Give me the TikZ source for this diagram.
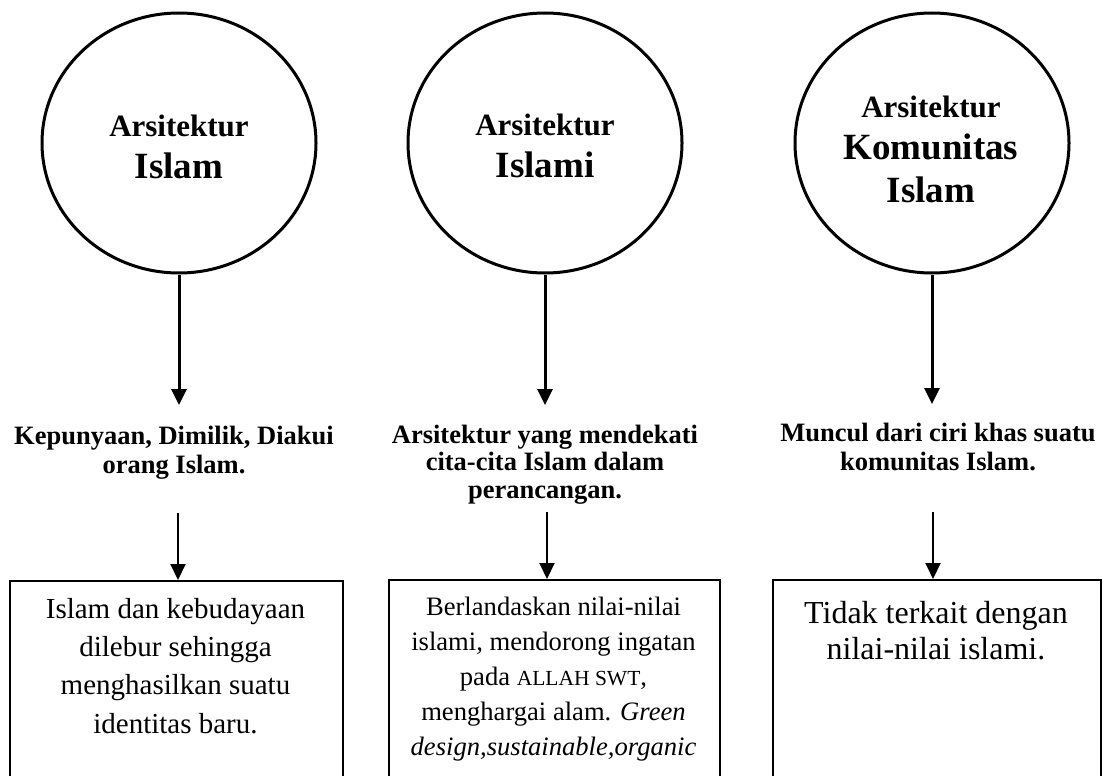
\documentclass[tikz,border=0pt]{standalone}
\usepackage{fontspec}
\setmainfont{Liberation Serif}
\usetikzlibrary{shapes.geometric,arrows.meta}
\begin{document}
\begin{tikzpicture}[x=1pt,y=-1pt,
  circ/.style={ellipse,draw,line width=3pt,minimum width=274pt,minimum height=260pt,inner sep=0pt},
  ctext/.style={align=center,inner sep=0pt,anchor=base,font=\fontsize{31}{42}\selectfont\bfseries},
  lbl/.style={align=center,inner sep=0pt,anchor=base,font=\fontsize{26.5}{28.5}\selectfont\bfseries},
  boxr/.style={draw,line width=2pt,anchor=north west,inner sep=0pt,minimum height=230pt},
  btext/.style={align=center,inner sep=0pt,anchor=base},
  arr/.style={line width=3pt,-{Triangle[width=15pt,length=16pt]}},
  arrb/.style={line width=2pt,-{Triangle[width=15pt,length=16pt]}}]
\useasboundingbox (0,0) rectangle (1103,776);
\fill[white] (0,0) rectangle (1103,776);
% circles
\node[circ] (c1) at (179,143) {};
\node[circ] (c2) at (545,143) {};
\node[circ] (c3) at (932,143) {};
\node[ctext] (ct1) at (179,178) {Arsitektur\\{\fontsize{37}{42}\selectfont Islam}};
\node[ctext] (ct2) at (545,177) {Arsitektur\\{\fontsize{37}{42}\selectfont Islami}};
\node[ctext,font=\fontsize{31}{42.5}\selectfont\bfseries] (ct3) at (931,202) {Arsitektur\\{\fontsize{37}{42.5}\selectfont Komunitas}\\{\fontsize{37}{42.5}\selectfont Islam}};
% labels
\node[lbl] (l1) at (174,473) {Kepunyaan, Dimilik, Diakui\\orang Islam.};
\node[lbl,font=\fontsize{26.5}{27.5}\selectfont\bfseries] (l2) at (545,498) {Arsitektur yang mendekati\\cita-cita Islam dalam\\perancangan.};
\node[lbl] (l3) at (938,470) {Muncul dari ciri khas suatu\\komunitas Islam.};
% boxes
\node[boxr,minimum width=333pt] (b1) at (9,580) {};
\node[boxr,minimum width=331pt] (b2) at (388,579) {};
\node[boxr,minimum width=328pt] (b3) at (772,579) {};
\node[btext,font=\fontsize{29}{38.3}\selectfont] (bt1) at (175.5,733) {Islam dan kebudayaan\\dilebur sehingga\\menghasilkan suatu\\identitas baru.};
\node[btext,font=\fontsize{26.6}{35}\selectfont] (bt2) at (553.5,755) {Berlandaskan nilai-nilai\\islami, mendorong ingatan\\pada {\fontsize{21.5}{35}\selectfont ALLAH SWT},\\menghargai alam. \textit{Green}\\\textit{design,sustainable,organic}};
\node[btext,font=\fontsize{32}{36}\selectfont] (bt3) at (936,659) {Tidak terkait dengan\\nilai-nilai islami.};
% arrow coordinates
\coordinate (e1) at (179,405);
\coordinate (e2) at (545,405);
\coordinate (e3) at (932,404);
\coordinate (s1) at (178,513);
\coordinate (s2) at (547,512);
\coordinate (s3) at (933,512);
\draw[arr] (c1.south) -- (e1);
\draw[arr] (c2.south) -- (e2);
\draw[arr] (c3.south) -- (e3);
\draw[arrb] (s1) -- (s1 |- b1.north);
\draw[arrb] (s2) -- (s2 |- b2.north);
\draw[arrb] (s3) -- (s3 |- b3.north);
\end{tikzpicture}
\end{document}
